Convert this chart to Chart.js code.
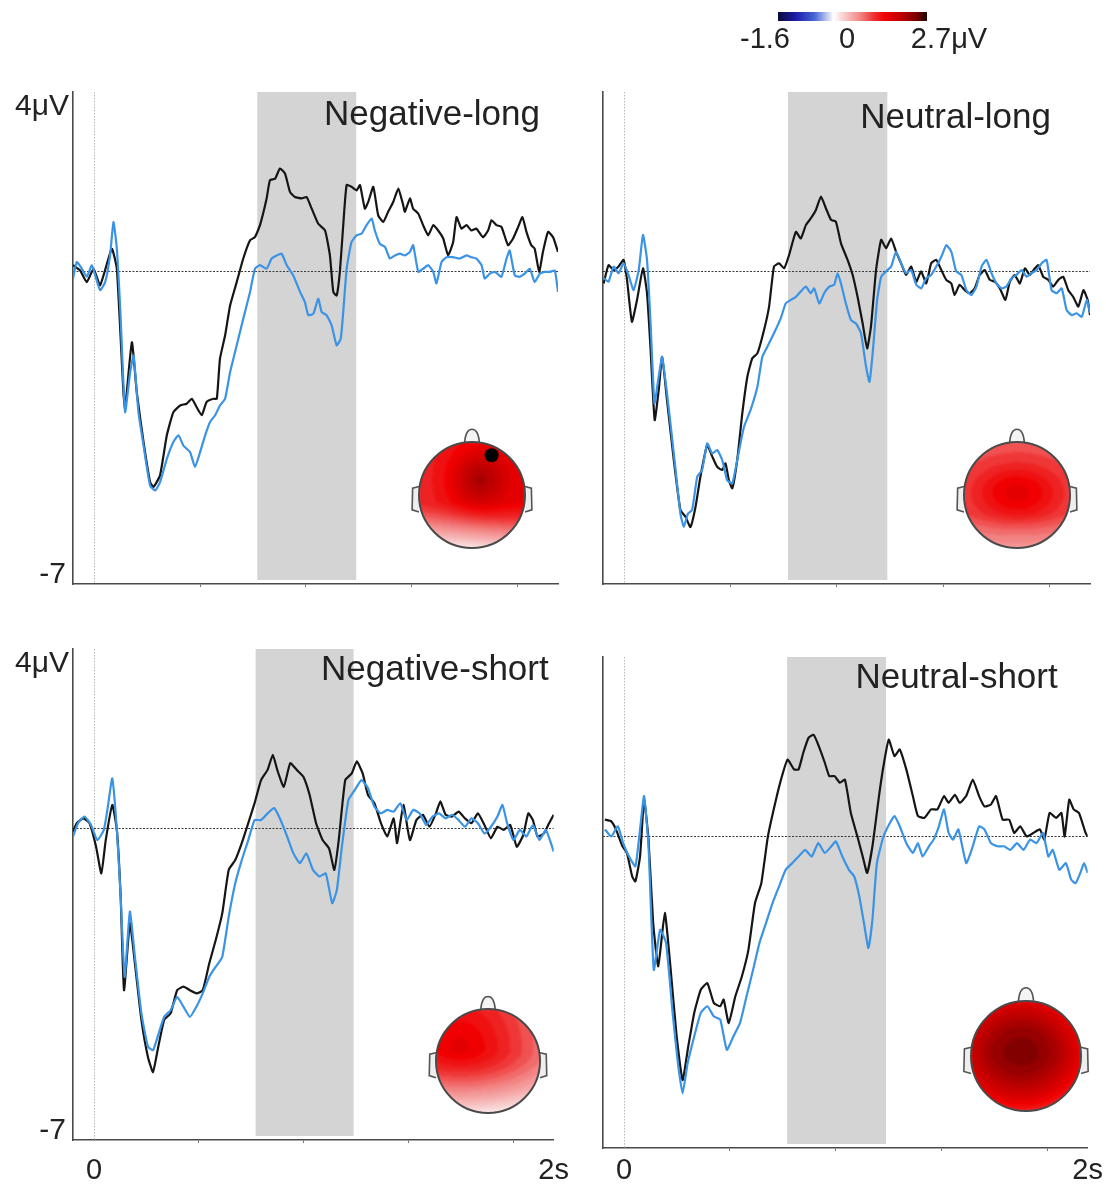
<!DOCTYPE html>
<html>
<head>
<meta charset="utf-8">
<script src="https://cdn.jsdelivr.net/npm/chart.js@4.4.1/dist/chart.umd.min.js"></script>
<style>
  html, body { margin: 0; padding: 0; background: #fff; overflow: hidden; }
  #stage { position: relative; width: 1106px; height: 1186px; }
  #stage canvas { position: absolute; }
</style>
</head>
<body>
<div id="stage"></div>
<script>
// ERP waveforms: [time (s), amplitude (µV)] pairs, black and blue traces per condition
const negLongBlack = [[-0.10,0.13],[-0.066,0.01],[-0.035,-0.25],[-0.003,0.05],[0.028,-0.32],[0.083,0.50],[0.107,0.05],[0.138,-2.72],[0.146,-3.09],[0.178,-1.60],[0.201,-2.72],[0.233,-3.84],[0.264,-4.74],[0.280,-4.85],[0.311,-4.59],[0.343,-3.69],[0.374,-3.17],[0.406,-3.02],[0.437,-2.98],[0.461,-2.87],[0.484,-3.06],[0.508,-3.24],[0.531,-2.94],[0.563,-2.87],[0.579,-2.87],[0.594,-1.97],[0.618,-1.45],[0.642,-0.77],[0.673,-0.25],[0.704,0.28],[0.736,0.69],[0.759,0.76],[0.783,1.03],[0.814,1.62],[0.830,2.04],[0.854,2.07],[0.877,2.30],[0.901,2.19],[0.925,1.77],[0.948,1.66],[0.980,1.63],[1.003,1.66],[1.027,1.40],[1.058,1.06],[1.090,0.91],[1.113,0.35],[1.129,-0.47],[1.145,-0.55],[1.160,-0.02],[1.176,1.03],[1.192,1.93],[1.215,1.89],[1.239,1.81],[1.255,1.93],[1.278,1.40],[1.294,1.55],[1.318,1.89],[1.341,1.25],[1.365,1.10],[1.388,1.33],[1.412,1.55],[1.436,1.85],[1.459,1.48],[1.467,1.33],[1.491,1.63],[1.506,1.40],[1.530,1.29],[1.553,1.03],[1.577,0.80],[1.601,1.03],[1.624,0.91],[1.648,0.73],[1.671,0.35],[1.695,0.65],[1.711,1.21],[1.734,0.95],[1.758,1.03],[1.781,0.91],[1.805,0.95],[1.836,0.76],[1.860,0.91],[1.876,1.14],[1.899,1.03],[1.923,0.99],[1.954,0.58],[1.978,0.73],[2.002,0.99],[2.022,1.21],[2.041,0.88],[2.064,0.58],[2.080,0.50],[2.101,-0.02],[2.119,0.43],[2.143,0.88],[2.167,0.76],[2.190,0.43]];
const negLongBlue = [[-0.10,-0.17],[-0.082,0.20],[-0.058,0.05],[-0.035,-0.13],[-0.011,0.13],[0.005,-0.10],[0.028,-0.43],[0.052,-0.25],[0.075,0.35],[0.091,1.10],[0.107,0.50],[0.123,-0.85],[0.146,-3.17],[0.170,-2.27],[0.186,-1.90],[0.209,-3.17],[0.233,-3.92],[0.264,-4.82],[0.288,-4.93],[0.311,-4.74],[0.343,-4.22],[0.374,-3.84],[0.398,-3.69],[0.421,-3.92],[0.453,-4.07],[0.476,-4.40],[0.500,-4.07],[0.524,-3.69],[0.547,-3.39],[0.571,-3.24],[0.594,-3.02],[0.618,-2.87],[0.642,-2.27],[0.673,-1.67],[0.704,-1.07],[0.736,-0.47],[0.759,0.05],[0.783,0.13],[0.814,0.05],[0.838,0.28],[0.862,0.35],[0.885,0.39],[0.909,0.13],[0.940,-0.10],[0.972,-0.47],[0.995,-0.70],[1.011,-0.99],[1.035,-0.96],[1.058,-0.62],[1.074,-0.92],[1.097,-0.99],[1.121,-1.22],[1.145,-1.67],[1.164,-1.52],[1.176,-0.92],[1.192,0.05],[1.215,0.65],[1.239,0.80],[1.263,0.84],[1.286,1.03],[1.310,1.18],[1.325,0.91],[1.349,0.61],[1.373,0.54],[1.396,0.28],[1.420,0.35],[1.443,0.39],[1.467,0.35],[1.491,0.43],[1.506,0.58],[1.530,-0.02],[1.553,0.05],[1.577,0.13],[1.601,-0.02],[1.616,-0.28],[1.640,0.20],[1.664,0.31],[1.695,0.31],[1.726,0.28],[1.758,0.35],[1.781,0.31],[1.805,0.28],[1.829,0.13],[1.844,-0.17],[1.868,-0.06],[1.892,-0.02],[1.923,-0.13],[1.947,0.28],[1.962,0.46],[1.986,-0.10],[2.009,-0.13],[2.033,-0.06],[2.057,0.05],[2.080,-0.25],[2.104,-0.06],[2.127,-0.02],[2.151,-0.02],[2.175,0.01],[2.190,-0.47]];

const neuLongBlack = [[-0.097,-0.28],[-0.074,0.13],[-0.050,0.02],[-0.027,0.10],[-0.003,0.25],[0.013,-0.20],[0.036,-1.14],[0.060,-0.65],[0.088,0.06],[0.107,-0.50],[0.123,-1.70],[0.143,-3.35],[0.162,-2.67],[0.178,-1.93],[0.201,-2.90],[0.233,-4.25],[0.264,-5.37],[0.288,-5.52],[0.311,-5.75],[0.335,-5.30],[0.358,-4.62],[0.390,-3.91],[0.414,-4.17],[0.437,-4.40],[0.461,-4.47],[0.476,-4.32],[0.492,-4.70],[0.508,-4.88],[0.531,-4.25],[0.555,-3.20],[0.579,-2.37],[0.602,-1.96],[0.626,-1.85],[0.657,-1.33],[0.681,-0.80],[0.704,0.10],[0.728,0.17],[0.752,0.06],[0.775,0.36],[0.807,0.88],[0.830,0.73],[0.854,1.03],[0.877,1.18],[0.901,1.37],[0.925,1.67],[0.948,1.41],[0.972,1.15],[0.995,1.11],[1.019,0.62],[1.050,0.25],[1.074,-0.09],[1.097,-0.58],[1.121,-1.18],[1.142,-1.74],[1.160,-1.25],[1.184,0.02],[1.208,0.70],[1.231,0.51],[1.255,0.73],[1.278,0.43],[1.302,0.17],[1.325,-0.09],[1.349,0.10],[1.373,-0.24],[1.396,-0.01],[1.420,-0.28],[1.443,0.17],[1.467,0.25],[1.491,0.02],[1.514,-0.20],[1.538,-0.28],[1.553,-0.54],[1.577,-0.31],[1.601,-0.43],[1.624,-0.50],[1.648,-0.39],[1.671,-0.09],[1.695,0.02],[1.719,-0.20],[1.742,-0.24],[1.766,-0.39],[1.792,-0.65],[1.813,-0.24],[1.836,-0.09],[1.860,-0.28],[1.884,0.06],[1.907,-0.09],[1.931,0.06],[1.947,0.13],[1.970,-0.13],[1.994,-0.20],[2.017,-0.35],[2.041,-0.20],[2.064,-0.13],[2.088,-0.43],[2.111,-0.58],[2.135,-0.80],[2.159,-0.43],[2.179,-0.65],[2.190,-0.99]];
const neuLongBlue = [[-0.097,-0.16],[-0.074,-0.24],[-0.050,0.10],[-0.027,-0.05],[-0.003,0.17],[0.020,-0.09],[0.044,-0.43],[0.068,0.02],[0.088,0.81],[0.107,0.25],[0.123,-1.10],[0.142,-2.97],[0.162,-2.37],[0.178,-1.93],[0.201,-2.75],[0.233,-4.10],[0.264,-5.45],[0.280,-5.75],[0.299,-5.45],[0.319,-5.37],[0.343,-4.62],[0.366,-4.47],[0.390,-3.87],[0.414,-4.10],[0.437,-4.02],[0.461,-4.25],[0.484,-4.70],[0.508,-4.77],[0.531,-4.25],[0.563,-3.50],[0.594,-3.12],[0.626,-2.60],[0.649,-1.93],[0.673,-1.70],[0.704,-1.40],[0.736,-1.06],[0.759,-0.73],[0.783,-0.65],[0.807,-0.58],[0.830,-0.46],[0.854,-0.35],[0.877,-0.50],[0.893,-0.39],[0.917,-0.73],[0.940,-0.50],[0.964,-0.35],[0.987,-0.31],[1.003,-0.05],[1.019,-0.28],[1.042,-0.73],[1.066,-1.10],[1.090,-1.18],[1.113,-1.40],[1.137,-2.15],[1.153,-2.49],[1.168,-1.85],[1.189,-0.65],[1.208,-0.13],[1.231,-0.01],[1.255,0.10],[1.278,0.43],[1.302,0.17],[1.325,-0.05],[1.349,0.02],[1.373,-0.31],[1.396,-0.39],[1.420,-0.16],[1.443,-0.09],[1.467,0.10],[1.491,0.32],[1.514,0.58],[1.538,0.43],[1.561,-0.01],[1.585,-0.09],[1.609,-0.43],[1.632,-0.54],[1.656,-0.35],[1.680,0.10],[1.703,0.25],[1.727,-0.05],[1.750,-0.28],[1.774,-0.39],[1.797,-0.35],[1.821,-0.16],[1.844,-0.09],[1.868,0.02],[1.892,-0.13],[1.915,-0.05],[1.939,0.02],[1.962,0.17],[1.986,0.25],[2.009,-0.43],[2.033,-0.50],[2.057,-0.39],[2.080,-0.88],[2.104,-0.99],[2.127,-0.95],[2.151,-1.03],[2.175,-0.65],[2.190,-0.95]];

const negShortBlack = [[-0.10,-0.09],[-0.082,0.10],[-0.051,0.21],[-0.021,0.10],[0.010,-0.43],[0.035,-1.03],[0.056,-0.28],[0.087,0.51],[0.109,-0.05],[0.127,-1.55],[0.143,-3.66],[0.171,-2.15],[0.195,-3.06],[0.226,-4.33],[0.257,-5.16],[0.281,-5.50],[0.303,-5.01],[0.334,-4.33],[0.365,-4.18],[0.396,-3.66],[0.426,-3.58],[0.457,-3.66],[0.488,-3.73],[0.518,-3.66],[0.549,-3.06],[0.580,-2.53],[0.611,-1.93],[0.642,-0.95],[0.673,-0.73],[0.704,-0.35],[0.735,0.10],[0.765,0.55],[0.796,1.07],[0.827,1.30],[0.852,1.64],[0.873,1.30],[0.904,0.92],[0.935,1.45],[0.966,1.30],[0.997,1.15],[1.027,0.74],[1.058,0.10],[1.089,-0.28],[1.120,-0.47],[1.145,-0.95],[1.166,-0.28],[1.197,1.07],[1.228,1.22],[1.252,1.49],[1.280,1.22],[1.305,0.74],[1.336,0.55],[1.367,0.10],[1.397,-0.20],[1.428,0.21],[1.444,-0.35],[1.474,0.51],[1.505,-0.28],[1.536,0.17],[1.567,0.29],[1.598,0.02],[1.629,0.32],[1.650,0.59],[1.675,0.29],[1.706,0.25],[1.737,0.36],[1.767,0.21],[1.798,0.10],[1.829,0.32],[1.860,0.06],[1.891,-0.24],[1.922,0.02],[1.952,-0.05],[1.983,0.06],[2.014,-0.43],[2.045,-0.17],[2.069,0.32],[2.091,0.17],[2.113,-0.20],[2.143,-0.13],[2.168,0.10],[2.190,0.29]];
const negShortBlue = [[-0.10,-0.20],[-0.076,0.10],[-0.045,0.25],[-0.014,0.06],[0.016,-0.28],[0.047,-0.05],[0.066,0.47],[0.087,1.11],[0.109,-0.05],[0.127,-1.55],[0.146,-3.36],[0.171,-1.89],[0.195,-2.91],[0.226,-4.18],[0.257,-4.93],[0.281,-5.01],[0.303,-4.71],[0.334,-4.26],[0.365,-4.11],[0.396,-3.81],[0.426,-4.03],[0.457,-4.26],[0.488,-4.03],[0.518,-3.73],[0.549,-3.36],[0.580,-3.13],[0.611,-2.91],[0.642,-2.00],[0.673,-1.25],[0.704,-0.73],[0.735,-0.28],[0.765,0.17],[0.796,0.17],[0.827,0.32],[0.858,0.44],[0.889,0.17],[0.920,-0.20],[0.950,-0.58],[0.981,-0.80],[1.012,-0.58],[1.043,-0.95],[1.074,-1.10],[1.104,-1.03],[1.135,-1.70],[1.157,-1.40],[1.181,-0.43],[1.212,0.62],[1.243,0.85],[1.274,1.07],[1.305,0.89],[1.336,0.47],[1.367,0.32],[1.397,0.40],[1.428,0.36],[1.459,0.55],[1.490,0.17],[1.521,0.40],[1.552,0.32],[1.582,0.06],[1.613,0.25],[1.644,0.32],[1.675,0.21],[1.706,0.29],[1.737,0.17],[1.767,0.02],[1.798,0.21],[1.829,0.10],[1.860,-0.13],[1.891,0.02],[1.922,0.25],[1.946,0.51],[1.968,0.10],[1.998,-0.28],[2.029,-0.05],[2.060,-0.20],[2.091,0.06],[2.122,-0.28],[2.153,-0.05],[2.190,-0.54]];

const neuShortBlack = [[-0.091,0.36],[-0.061,0.32],[-0.039,0.14],[-0.008,-0.24],[0.013,-0.39],[0.038,-0.92],[0.053,-1.03],[0.075,-0.47],[0.094,0.81],[0.115,-0.09],[0.137,-1.97],[0.161,-2.94],[0.192,-1.74],[0.217,-2.87],[0.248,-4.52],[0.276,-5.50],[0.303,-4.74],[0.331,-3.99],[0.362,-3.47],[0.393,-3.32],[0.424,-3.77],[0.454,-3.84],[0.470,-3.69],[0.494,-4.22],[0.525,-3.62],[0.556,-3.17],[0.587,-2.57],[0.618,-1.52],[0.648,-1.07],[0.679,-0.02],[0.710,0.66],[0.741,1.26],[0.772,1.71],[0.803,1.49],[0.824,1.49],[0.846,1.86],[0.871,2.20],[0.895,2.27],[0.920,2.01],[0.948,1.64],[0.969,1.34],[0.994,1.34],[1.019,1.19],[1.043,1.26],[1.071,0.51],[1.102,-0.02],[1.127,-0.47],[1.148,-0.84],[1.173,-0.24],[1.204,0.89],[1.225,1.56],[1.250,2.16],[1.277,1.79],[1.302,1.94],[1.333,1.49],[1.364,0.89],[1.388,0.44],[1.419,0.40],[1.450,0.59],[1.480,0.59],[1.511,0.89],[1.533,0.74],[1.563,0.92],[1.585,0.74],[1.616,0.89],[1.647,1.26],[1.677,0.89],[1.702,0.66],[1.733,0.70],[1.757,0.89],[1.788,0.36],[1.819,0.36],[1.843,0.06],[1.871,0.21],[1.902,-0.02],[1.933,0.06],[1.964,0.14],[1.985,-0.09],[2.010,0.51],[2.041,0.40],[2.066,0.51],[2.081,-0.02],[2.103,0.81],[2.124,0.59],[2.149,0.51],[2.180,0.06],[2.190,-0.02]];
const neuShortBlue = [[-0.091,0.14],[-0.061,-0.02],[-0.030,0.21],[-0.005,-0.17],[0.023,-0.47],[0.053,-0.69],[0.075,0.14],[0.094,0.89],[0.115,-0.24],[0.140,-3.02],[0.170,-2.12],[0.198,-2.42],[0.229,-3.99],[0.254,-5.12],[0.276,-5.80],[0.300,-5.12],[0.331,-4.52],[0.362,-3.99],[0.393,-3.84],[0.424,-4.07],[0.454,-4.14],[0.485,-4.82],[0.516,-4.52],[0.547,-4.22],[0.578,-3.62],[0.609,-3.02],[0.639,-2.42],[0.670,-1.97],[0.701,-1.52],[0.732,-1.14],[0.763,-0.77],[0.794,-0.62],[0.824,-0.47],[0.855,-0.32],[0.886,-0.47],[0.917,-0.17],[0.948,-0.39],[0.979,-0.24],[1.000,-0.13],[1.031,-0.47],[1.062,-0.77],[1.087,-0.92],[1.111,-1.37],[1.133,-1.97],[1.154,-2.53],[1.173,-1.89],[1.194,-0.62],[1.225,-0.02],[1.256,0.29],[1.277,0.44],[1.302,0.21],[1.333,-0.17],[1.364,-0.39],[1.388,-0.17],[1.410,-0.47],[1.440,-0.24],[1.462,-0.09],[1.487,0.21],[1.511,0.59],[1.533,0.06],[1.554,-0.09],[1.579,0.14],[1.616,-0.62],[1.647,-0.24],[1.677,0.21],[1.702,0.14],[1.733,-0.17],[1.764,-0.24],[1.795,-0.24],[1.825,-0.32],[1.856,-0.17],[1.887,-0.32],[1.918,-0.09],[1.948,-0.17],[1.979,0.06],[2.004,-0.47],[2.025,-0.32],[2.056,-0.77],[2.087,-0.62],[2.112,-0.99],[2.133,-1.07],[2.155,-0.84],[2.173,-0.62],[2.190,-0.84]];

// Axes and analysis window
const timeRange = [-0.1, 2.19];
const ampRange = [-7.03, 4.02];
const xTickValues = [0, 0.5, 1, 1.5, 2, 2.19];
const xTickLabels = ['0', '', '', '', '', '2s'];
const yLabelValues = [4, -7];
const yLabelTexts = ['4\u03bcV', '-7'];
const shadeWindow = [0.77, 1.237];

// Colour scale shared by the scalp maps and the colour bar
const cmapValues = [-1.6, -1.1, -0.55, -0.15, 0, 0.35, 0.8, 1.2, 1.5, 2.0, 2.4, 2.7];
const cmapColors = ['#0b0b3a', '#1c1ca8', '#4565d8', '#c9d2f2', '#ffffff', '#f7c6c6', '#f28080', '#ee2a2a', '#f00000', '#b80000', '#7a0000', '#1e0505'];
const colorbarLabels = ['-1.6', '0', '2.7\u03bcV'];

const FONT = '"Liberation Sans", Arial, sans-serif';
const BLACK = '#151515';
const BLUE = '#3a93e4';

function hexToRgb(h) {
  const n = parseInt(h.slice(1), 16);
  return [(n >> 16) & 255, (n >> 8) & 255, n & 255];
}
const cmapRgb = cmapColors.map(hexToRgb);
function colorFor(v) {
  if (v <= cmapValues[0]) return cmapRgb[0];
  const last = cmapValues.length - 1;
  if (v >= cmapValues[last]) return cmapRgb[last];
  let i = 0;
  while (v > cmapValues[i + 1]) i++;
  const f = (v - cmapValues[i]) / (cmapValues[i + 1] - cmapValues[i]);
  const a = cmapRgb[i], b = cmapRgb[i + 1];
  return [0, 1, 2].map(k => Math.round(a[k] + (b[k] - a[k]) * f));
}

// Scalp map: filled disc with softly banded colour levels, outline, nose and ears
function drawHead(ctx, cx, cy, r, field, dot) {
  const size = Math.ceil(2 * r) + 2;
  const off = document.createElement('canvas');
  off.width = size; off.height = size;
  const octx = off.getContext('2d');
  const img = octx.createImageData(size, size);
  const step = 0.12;
  for (let py = 0; py < size; py++) {
    for (let px = 0; px < size; px++) {
      const x = (px - size / 2) / r, y = (py - size / 2) / r;
      const idx = (py * size + px) * 4;
      const k = Math.min(1, 1 / Math.sqrt(Math.max(x * x + y * y, 1e-9)));
      let v = field(x * k, y * k);
      v = Math.floor(v / step) * step + step / 2;
      const c = colorFor(v);
      img.data[idx] = c[0]; img.data[idx + 1] = c[1]; img.data[idx + 2] = c[2]; img.data[idx + 3] = 255;
    }
  }
  octx.putImageData(img, 0, 0);

  ctx.save();
  // ears
  ctx.lineWidth = 1.6;
  ctx.strokeStyle = '#555';
  ctx.fillStyle = '#eee';
  [-1, 1].forEach(s => {
    ctx.beginPath();
    const ex = cx + s * r;
    ctx.moveTo(ex, cy - 0.16 * r);
    ctx.lineTo(ex + s * 0.12 * r, cy - 0.13 * r);
    ctx.lineTo(ex + s * 0.13 * r, cy + 0.28 * r);
    ctx.lineTo(ex, cy + 0.32 * r);
    ctx.fill(); ctx.stroke();
  });
  // nose
  ctx.beginPath();
  ctx.moveTo(cx - 0.14 * r, cy - 0.985 * r);
  ctx.quadraticCurveTo(cx - 0.12 * r, cy - 1.24 * r, cx, cy - 1.24 * r);
  ctx.quadraticCurveTo(cx + 0.12 * r, cy - 1.24 * r, cx + 0.14 * r, cy - 0.985 * r);
  ctx.fillStyle = '#f4f4f4';
  ctx.fill(); ctx.stroke();

  ctx.beginPath();
  ctx.arc(cx, cy, r, 0, Math.PI * 2);
  ctx.save();
  ctx.clip();
  ctx.filter = 'blur(1.6px)';
  ctx.drawImage(off, cx - size / 2, cy - size / 2);
  ctx.restore();
  ctx.beginPath();
  ctx.arc(cx, cy, r, 0, Math.PI * 2);
  ctx.lineWidth = 2;
  ctx.strokeStyle = '#4a4a4a';
  ctx.stroke();

  if (dot) {
    ctx.beginPath();
    ctx.arc(cx + dot[0] * r, cy + dot[1] * r, 7, 0, Math.PI * 2);
    ctx.fillStyle = '#000';
    ctx.fill();
  }
  ctx.restore();
}

const panelDecor = {
  id: 'panelDecor',
  beforeDatasetsDraw(chart, args, opts) {
    const { ctx, chartArea: a, scales: { x, y } } = chart;
    ctx.save();
    // analysis window
    ctx.fillStyle = '#d4d4d4';
    const x0 = x.getPixelForValue(shadeWindow[0]), x1 = x.getPixelForValue(shadeWindow[1]);
    ctx.fillRect(x0, a.top, x1 - x0, a.bottom - a.top - 4);
    // stimulus onset
    ctx.strokeStyle = '#b8b8b8';
    ctx.lineWidth = 1;
    ctx.setLineDash([1.5, 1.5]);
    const xz = Math.round(x.getPixelForValue(0)) + 0.5;
    ctx.beginPath(); ctx.moveTo(xz, a.top); ctx.lineTo(xz, a.bottom); ctx.stroke();
    // baseline
    ctx.strokeStyle = '#3a3a3a';
    ctx.setLineDash([2, 1.5]);
    const yz = Math.round(y.getPixelForValue(0)) + 0.5;
    ctx.beginPath(); ctx.moveTo(a.left, yz); ctx.lineTo(a.right, yz); ctx.stroke();
    ctx.restore();
  },
  afterDraw(chart, args, opts) {
    const { ctx, chartArea: a, scales: { y } } = chart;
    ctx.save();
    ctx.fillStyle = '#222';
    if (opts.showY) {
      ctx.font = '30px ' + FONT;
      ctx.textAlign = 'right';
      ctx.textBaseline = 'alphabetic';
      ctx.fillText(yLabelTexts[0], a.left - 4, y.getPixelForValue(yLabelValues[0]) + 22);
      ctx.fillText(yLabelTexts[1], a.left - 7, y.getPixelForValue(yLabelValues[1]));
    }
    ctx.font = '35px ' + FONT;
    ctx.textAlign = 'right';
    ctx.textBaseline = 'alphabetic';
    ctx.fillText(opts.title, a.right + opts.titleDx, a.top + opts.titleDy);
    ctx.restore();
    const h = opts.head;
    drawHead(ctx, a.left + h.dx, a.top + h.dy, h.r, h.field, h.dot);
  }
};

const panels = [
  { title: 'Negative-long', black: negLongBlack, blue: negLongBlue,
    left: 0, top: 60, width: 580, height: 560, padTop: 32, padRight: 22, xHeight: 36, showX: false, showY: true, tickPad: 0,
    titleDx: -18, titleDy: 33,
    head: { dx: 399, dy: 403, r: 53, dot: [0.37, -0.75],
      field: (x, y) => 1.4 + 0.65 * Math.exp(-((x - 0.12) ** 2 + (y + 0.3) ** 2) / 0.26) - 1.45 * Math.pow(Math.max(0, y - 0.1), 1.3) + 0.15 * x } },
  { title: 'Neutral-long', black: neuLongBlack, blue: neuLongBlue,
    left: 530, top: 60, width: 576, height: 560, padTop: 32, padRight: 16, xHeight: 36, showX: false, showY: false, tickPad: 0,
    titleDx: -39, titleDy: 36,
    head: { dx: 414, dy: 403, r: 53,
      field: (x, y) => 0.98 + 0.62 * Math.exp(-(x * x / 0.75 + (y + 0.05) ** 2 / 0.32)) - 0.55 * Math.max(0, y - 0.35) } },
  { title: 'Negative-short', black: negShortBlack, blue: negShortBlue,
    left: 0, top: 600, width: 580, height: 586, padTop: 49, padRight: 22, xHeight: 46, showX: true, showY: true, tickPad: 11,
    titleDx: -5, titleDy: 31,
    head: { dx: 415, dy: 412, r: 52,
      field: (x, y) => { const dx = x + 0.55, dy = y + 0.25; const ky = dy > 0 ? 1.1 : 0.45; return 1.62 - Math.pow(Math.hypot(0.5 * dx, ky * dy), 1.2); } } },
  { title: 'Neutral-short', black: neuShortBlack, blue: neuShortBlue,
    left: 530, top: 600, width: 576, height: 586, padTop: 57, padRight: 16, xHeight: 38, showX: true, showY: false, tickPad: 3,
    titleDx: -30, titleDy: 31,
    head: { dx: 423, dy: 399, r: 55,
      field: (x, y) => 2.35 - 0.8 * ((x + 0.1) ** 2 / 1.2 + (y + 0.05) ** 2) - 0.2 * Math.max(0, y) } }
];

const stage = document.getElementById('stage');

panels.forEach(p => {
  const cv = document.createElement('canvas');
  cv.width = p.width; cv.height = p.height;
  cv.style.left = p.left + 'px'; cv.style.top = p.top + 'px';
  cv.style.width = p.width + 'px'; cv.style.height = p.height + 'px';
  stage.appendChild(cv);
  const toPts = arr => arr.map(d => ({ x: d[0], y: d[1] }));
  new Chart(cv, {
    type: 'line',
    data: {
      datasets: [
        { data: toPts(p.blue), borderColor: BLUE, borderWidth: 2.2, pointRadius: 0, tension: 0.15, fill: false },
        { data: toPts(p.black), borderColor: BLACK, borderWidth: 2.2, pointRadius: 0, tension: 0.15, fill: false }
      ]
    },
    options: {
      responsive: false,
      animation: false,
      devicePixelRatio: 1,
      layout: { padding: { top: p.padTop, right: p.padRight, left: 0, bottom: 0 } },
      plugins: {
        legend: { display: false },
        tooltip: { enabled: false },
        panelDecor: { title: p.title, titleDx: p.titleDx, titleDy: p.titleDy, showY: p.showY, head: p.head }
      },
      scales: {
        x: {
          type: 'linear', min: timeRange[0], max: timeRange[1],
          afterBuildTicks: s => { s.ticks = xTickValues.map(v => ({ value: v })); },
          afterFit: s => { s.height = p.xHeight; },
          ticks: {
            display: p.showX, autoSkip: false, maxRotation: 0, padding: p.tickPad,
            color: '#222', font: { size: 29, family: FONT },
            callback: (v, i) => xTickLabels[i]
          },
          grid: {
            display: true, drawOnChartArea: false, drawTicks: true, tickLength: 3, tickWidth: 1,
            tickColor: c => (c.tick && (c.tick.value === 0 || c.tick.value === timeRange[1])) ? 'rgba(0,0,0,0)' : '#777'
          },
          border: { display: true, color: '#4a4a4a', width: 1.6 }
        },
        y: {
          type: 'linear', min: ampRange[0], max: ampRange[1],
          afterFit: s => { s.width = 73; },
          ticks: { display: false },
          grid: { display: false },
          border: { display: true, color: '#4a4a4a', width: 1.6 }
        }
      }
    },
    plugins: [panelDecor]
  });
});

// Colour bar
(function () {
  const cv = document.createElement('canvas');
  cv.width = 320; cv.height = 60;
  cv.style.left = '700px'; cv.style.top = '0px';
  stage.appendChild(cv);
  const ctx = cv.getContext('2d');
  const bx = 78, bw = 149, by = 12, bh = 9;
  const lo = cmapValues[0], hi = cmapValues[cmapValues.length - 1];
  for (let i = 0; i < bw; i++) {
    const c = colorFor(lo + (hi - lo) * (i + 0.5) / bw);
    ctx.fillStyle = `rgb(${c[0]},${c[1]},${c[2]})`;
    ctx.fillRect(bx + i, by, 1, bh);
  }
  ctx.fillStyle = '#222';
  ctx.font = '29px ' + FONT;
  ctx.textAlign = 'center';
  ctx.textBaseline = 'alphabetic';
  const labelX = [65, 147, 249];
  colorbarLabels.forEach((t, i) => ctx.fillText(t, labelX[i], 48));
})();
</script>
</body>
</html>
